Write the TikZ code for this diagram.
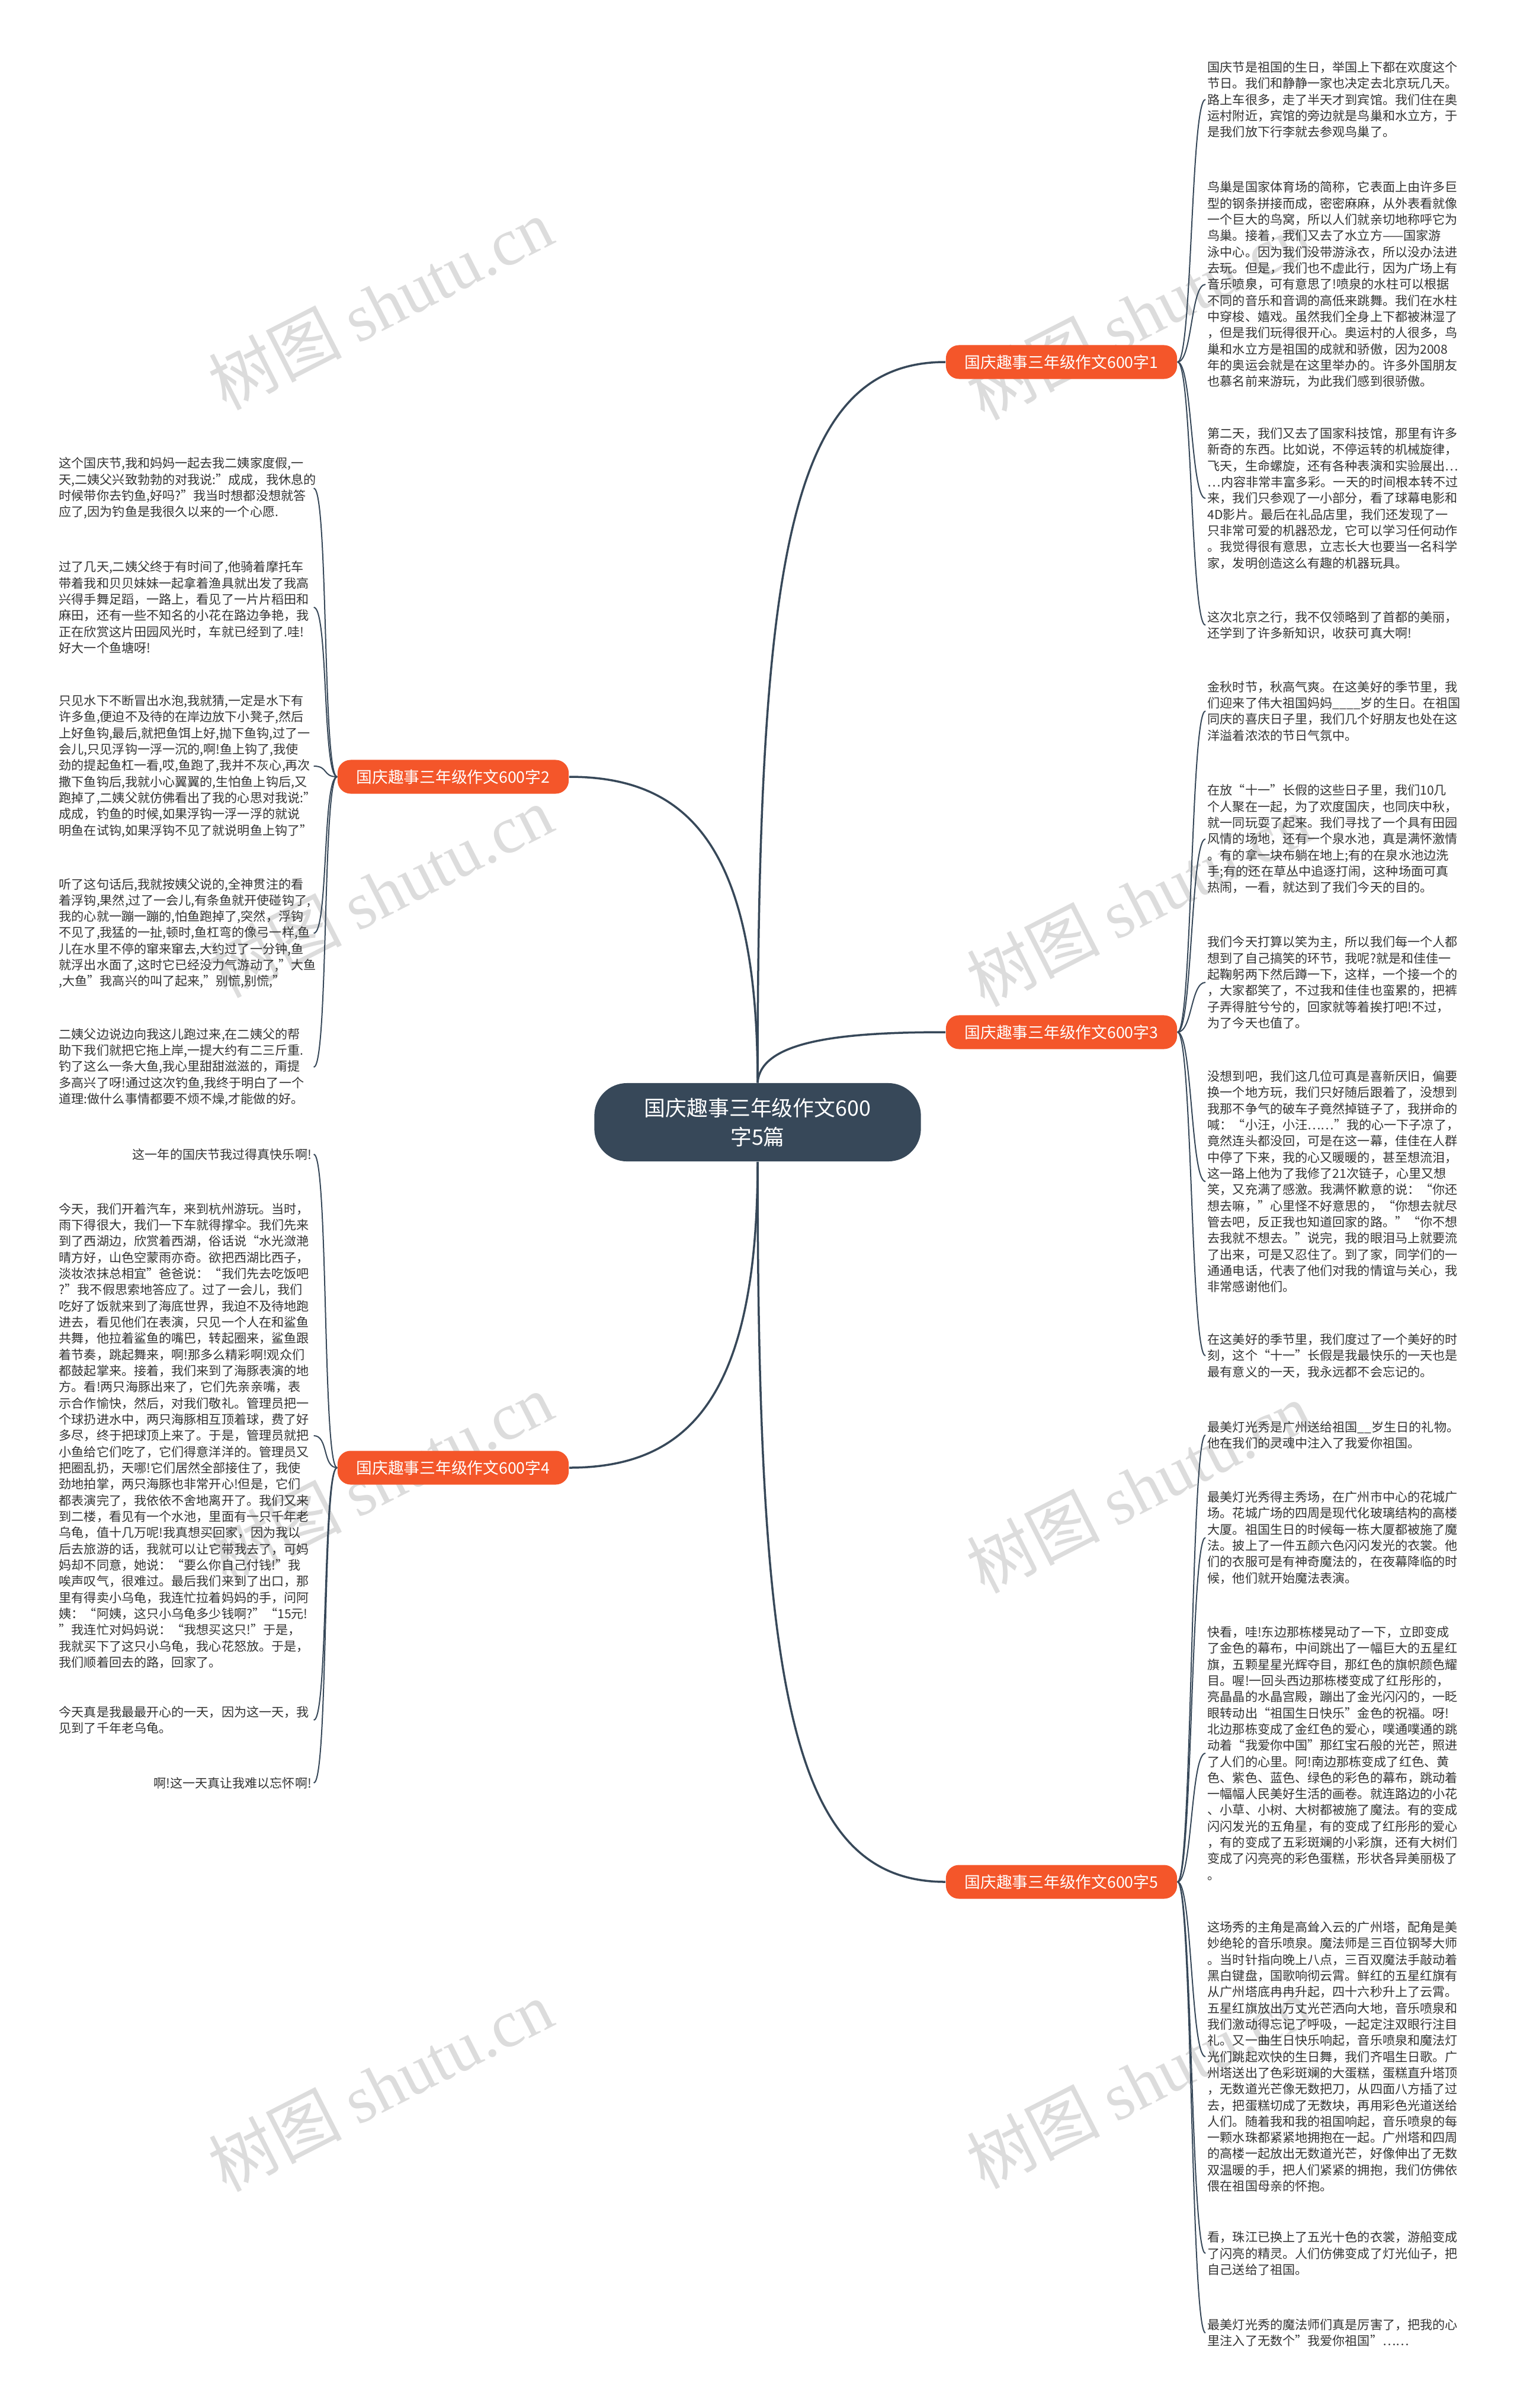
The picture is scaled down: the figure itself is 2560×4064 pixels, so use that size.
\documentclass[tikz,border=0pt]{standalone}
\usepackage{fontspec}
\setmainfont{Noto Sans CJK SC}
\newfontfamily\markserif{Liberation Serif}
\usepackage{tikz}
\definecolor{rootfill}{HTML}{374859}
\definecolor{branchfill}{HTML}{F4562A}
\definecolor{linedark}{HTML}{374859}
\definecolor{leaftext}{HTML}{333333}
\definecolor{markgray}{HTML}{DCDCDC}
\tikzset{
    rootbox/.style={
        rectangle, rounded corners=0.55cm, fill=rootfill, text=white,
        minimum width=5.51cm, minimum height=1.32cm, inner sep=0pt,
        font=\fontsize{10.2pt}{14pt}\selectfont, align=center
    },
    branchbox/.style={
        rectangle, rounded corners=0.22cm, fill=branchfill, text=white,
        minimum width=3.9cm, minimum height=0.57cm, inner sep=0pt,
        font=\fontsize{7.6pt}{9pt}\selectfont
    },
    leafbox/.style={
        rectangle, text width=4.26cm, inner xsep=0.03cm, inner ysep=0.03cm,
        align=left, text=leaftext, font=\fontsize{6pt}{7.77pt}\selectfont
    },
    leafright/.style={
        leafbox, align=right
    },
    mainline/.style={
        draw=linedark, line width=0.035cm
    },
    leafline/.style={
        draw=linedark, line width=0.02cm
    },
    watermark/.style={
        text=markgray, rotate=27, inner sep=0pt,
        font=\fontsize{32pt}{32pt}\selectfont
    },
}

\begin{document}
\begin{tikzpicture}[x=0.01cm, y=-0.01cm]

    \useasboundingbox (0,0) rectangle (2560,4064);
    \fill[white] (0,0) rectangle (2560,4064);

    % ── Watermarks ──
    \node[watermark] (wm1) at (642,513) {树图 {\markserif shutu.cn}};
    \node[watermark] (wm2) at (1922,530) {树图 {\markserif shutu.cn}};
    \node[watermark] (wm3) at (642,1505) {树图 {\markserif shutu.cn}};
    \node[watermark] (wm4) at (1922,1520) {树图 {\markserif shutu.cn}};
    \node[watermark] (wm5) at (642,2495) {树图 {\markserif shutu.cn}};
    \node[watermark] (wm6) at (1922,2510) {树图 {\markserif shutu.cn}};
    \node[watermark] (wm7) at (642,3520) {树图 {\markserif shutu.cn}};
    \node[watermark] (wm8) at (1922,3515) {树图 {\markserif shutu.cn}};

    % ── Root and branches ──
    \node[rootbox] (root) at (1279,1894) {国庆趣事三年级作文600\\字5篇};
    \node[branchbox] (b1) at (1792,611) {国庆趣事三年级作文600字1};
    \node[branchbox] (b2) at (765,1311) {国庆趣事三年级作文600字2};
    \node[branchbox] (b3) at (1792,1742) {国庆趣事三年级作文600字3};
    \node[branchbox] (b4) at (765,2477) {国庆趣事三年级作文600字4};
    \node[branchbox] (b5) at (1792,3176) {国庆趣事三年级作文600字5};

    \draw[mainline] (root.north) .. controls +(0,-900) and +(-260,0) .. (b1.west);
    \draw[mainline] (root.north) .. controls +(0,-400) and +(200,0) .. (b2.east);
    \draw[mainline] (root.north) .. controls +(5,-70) and +(-180,0) .. (b3.west);
    \draw[mainline] (root.south) .. controls +(0,400) and +(200,0) .. (b4.east);
    \draw[mainline] (root.south) .. controls +(0,900) and +(-260,0) .. (b5.west);

    % ── Branch 1 ──
    \node[leafbox, anchor=west] (r1a) at (2035,168) {国庆节是祖国的生日，举国上下都在欢度这个\\节日。我们和静静一家也决定去北京玩几天。\\路上车很多，走了半天才到宾馆。我们住在奥\\运村附近，宾馆的旁边就是鸟巢和水立方，于\\是我们放下行李就去参观鸟巢了。};
    \node[leafbox, anchor=west] (r1b) at (2035,480) {鸟巢是国家体育场的简称，它表面上由许多巨\\型的钢条拼接而成，密密麻麻，从外表看就像\\一个巨大的鸟窝，所以人们就亲切地称呼它为\\鸟巢。接着，我们又去了水立方——国家游\\泳中心。因为我们没带游泳衣，所以没办法进\\去玩。但是，我们也不虚此行，因为广场上有\\音乐喷泉，可有意思了!喷泉的水柱可以根据\\不同的音乐和音调的高低来跳舞。我们在水柱\\中穿梭、嬉戏。虽然我们全身上下都被淋湿了\\，但是我们玩得很开心。奥运村的人很多，鸟\\巢和水立方是祖国的成就和骄傲，因为2008\\年的奥运会就是在这里举办的。许多外国朋友\\也慕名前来游玩，为此我们感到很骄傲。};
    \node[leafbox, anchor=west] (r1c) at (2035,841) {第二天，我们又去了国家科技馆，那里有许多\\新奇的东西。比如说，不停运转的机械旋律，\\飞天，生命螺旋，还有各种表演和实验展出…\\…内容非常丰富多彩。一天的时间根本转不过\\来，我们只参观了一小部分，看了球幕电影和\\4D影片。最后在礼品店里，我们还发现了一\\只非常可爱的机器恐龙，它可以学习任何动作\\。我觉得很有意思，立志长大也要当一名科学\\家，发明创造这么有趣的机器玩具。};
    \node[leafbox, anchor=west] (r1d) at (2035,1055) {这次北京之行，我不仅领略到了首都的美丽，\\还学到了许多新知识，收获可真大啊!};

    \draw[leafline] (b1.east) .. controls +(25,0) and +(-25,0) .. (r1a.west);
    \draw[leafline] (b1.east) .. controls +(25,0) and +(-25,0) .. (r1b.west);
    \draw[leafline] (b1.east) .. controls +(25,0) and +(-25,0) .. (r1c.west);
    \draw[leafline] (b1.east) .. controls +(25,0) and +(-25,0) .. (r1d.west);

    % ── Branch 2 ──
    \node[leafbox, anchor=west] (l2a) at (96,824) {这个国庆节,我和妈妈一起去我二姨家度假,一\\天,二姨父兴致勃勃的对我说:"成成，我休息的\\时候带你去钓鱼,好吗?"我当时想都没想就答\\应了,因为钓鱼是我很久以来的一个心愿.};
    \node[leafbox, anchor=west] (l2b) at (96,1025) {过了几天,二姨父终于有时间了,他骑着摩托车\\带着我和贝贝妹妹一起拿着渔具就出发了我高\\兴得手舞足蹈，一路上，看见了一片片稻田和\\麻田，还有一些不知名的小花在路边争艳，我\\正在欣赏这片田园风光时，车就已经到了.哇!\\好大一个鱼塘呀!};
    \node[leafbox, anchor=west] (l2c) at (96,1293) {只见水下不断冒出水泡,我就猜,一定是水下有\\许多鱼,便迫不及待的在岸边放下小凳子,然后\\上好鱼钩,最后,就把鱼饵上好,抛下鱼钩,过了一\\会儿,只见浮钩一浮一沉的,啊!鱼上钩了,我使\\劲的提起鱼杠一看,哎,鱼跑了,我并不灰心,再次\\撒下鱼钩后,我就小心翼翼的,生怕鱼上钩后,又\\跑掉了,二姨父就仿佛看出了我的心思对我说:"\\成成，钓鱼的时候,如果浮钩一浮一浮的就说\\明鱼在试钩,如果浮钩不见了就说明鱼上钩了"};
    \node[leafbox, anchor=west] (l2d) at (96,1575) {听了这句话后,我就按姨父说的,全神贯注的看\\着浮钩,果然,过了一会儿,有条鱼就开使碰钩了,\\我的心就一蹦一蹦的,怕鱼跑掉了,突然，浮钩\\不见了,我猛的一扯,顿时,鱼杠弯的像弓一样,鱼\\儿在水里不停的窜来窜去,大约过了一分钟,鱼\\就浮出水面了,这时它已经没力气游动了,"大鱼\\,大鱼"我高兴的叫了起来,"别慌,别慌,"};
    \node[leafbox, anchor=west] (l2e) at (96,1801) {二姨父边说边向我这儿跑过来,在二姨父的帮\\助下我们就把它拖上岸,一提大约有二三斤重.\\钓了这么一条大鱼,我心里甜甜滋滋的，甭提\\多高兴了呀!通过这次钓鱼,我终于明白了一个\\道理:做什么事情都要不烦不燥,才能做的好。};

    \draw[leafline] (b2.west) .. controls +(-25,0) and +(25,0) .. (l2a.east);
    \draw[leafline] (b2.west) .. controls +(-25,0) and +(25,0) .. (l2b.east);
    \draw[leafline] (b2.west) .. controls +(-25,0) and +(25,0) .. (l2c.east);
    \draw[leafline] (b2.west) .. controls +(-25,0) and +(25,0) .. (l2d.east);
    \draw[leafline] (b2.west) .. controls +(-25,0) and +(25,0) .. (l2e.east);

    % ── Branch 3 ──
    \node[leafbox, anchor=west] (r3a) at (2035,1200) {金秋时节，秋高气爽。在这美好的季节里，我\\们迎来了伟大祖国妈妈\_\_\_\_岁的生日。在祖国\\同庆的喜庆日子里，我们几个好朋友也处在这\\洋溢着浓浓的节日气氛中。};
    \node[leafbox, anchor=west] (r3b) at (2035,1416) {在放“十一”长假的这些日子里，我们10几\\个人聚在一起，为了欢度国庆，也同庆中秋，\\就一同玩耍了起来。我们寻找了一个具有田园\\风情的场地，还有一个泉水池，真是满怀激情\\。有的拿一块布躺在地上;有的在泉水池边洗\\手;有的还在草丛中追逐打闹，这种场面可真\\热闹，一看，就达到了我们今天的目的。};
    \node[leafbox, anchor=west] (r3c) at (2035,1658) {我们今天打算以笑为主，所以我们每一个人都\\想到了自己搞笑的环节，我呢?就是和佳佳一\\起鞠躬两下然后蹲一下，这样，一个接一个的\\，大家都笑了，不过我和佳佳也蛮累的，把裤\\子弄得脏兮兮的，回家就等着挨打吧!不过，\\为了今天也值了。};
    \node[leafbox, anchor=west] (r3d) at (2035,1994) {没想到吧，我们这几位可真是喜新厌旧，偏要\\换一个地方玩，我们只好随后跟着了，没想到\\我那不争气的破车子竟然掉链子了，我拼命的\\喊：“小汪，小汪……”我的心一下子凉了，\\竟然连头都没回，可是在这一幕，佳佳在人群\\中停了下来，我的心又暖暖的，甚至想流泪，\\这一路上他为了我修了21次链子，心里又想\\笑，又充满了感激。我满怀歉意的说：“你还\\想去嘛，”心里怪不好意思的，“你想去就尽\\管去吧，反正我也知道回家的路。”“你不想\\去我就不想去。”说完，我的眼泪马上就要流\\了出来，可是又忍住了。到了家，同学们的一\\通通电话，代表了他们对我的情谊与关心，我\\非常感谢他们。};
    \node[leafbox, anchor=west] (r3e) at (2035,2288) {在这美好的季节里，我们度过了一个美好的时\\刻，这个“十一”长假是我最快乐的一天也是\\最有意义的一天，我永远都不会忘记的。};

    \draw[leafline] (b3.east) .. controls +(25,0) and +(-25,0) .. (r3a.west);
    \draw[leafline] (b3.east) .. controls +(25,0) and +(-25,0) .. (r3b.west);
    \draw[leafline] (b3.east) .. controls +(25,0) and +(-25,0) .. (r3c.west);
    \draw[leafline] (b3.east) .. controls +(25,0) and +(-25,0) .. (r3d.west);
    \draw[leafline] (b3.east) .. controls +(25,0) and +(-25,0) .. (r3e.west);

    % ── Branch 4 ──
    \node[leafright, anchor=west] (l4a) at (96,1948) {这一年的国庆节我过得真快乐啊!};
    \node[leafbox, anchor=west] (l4b) at (96,2423) {今天，我们开着汽车，来到杭州游玩。当时，\\雨下得很大，我们一下车就得撑伞。我们先来\\到了西湖边，欣赏着西湖，俗话说“水光潋滟\\晴方好，山色空蒙雨亦奇。欲把西湖比西子，\\淡妆浓抹总相宜”爸爸说：“我们先去吃饭吧\\?”我不假思索地答应了。过了一会儿，我们\\吃好了饭就来到了海底世界，我迫不及待地跑\\进去，看见他们在表演，只见一个人在和鲨鱼\\共舞，他拉着鲨鱼的嘴巴，转起圈来，鲨鱼跟\\着节奏，跳起舞来，啊!那多么精彩啊!观众们\\都鼓起掌来。接着，我们来到了海豚表演的地\\方。看!两只海豚出来了，它们先亲亲嘴，表\\示合作愉快，然后，对我们敬礼。管理员把一\\个球扔进水中，两只海豚相互顶着球，费了好\\多尽，终于把球顶上来了。于是，管理员就把\\小鱼给它们吃了，它们得意洋洋的。管理员又\\把圈乱扔，天哪!它们居然全部接住了，我使\\劲地拍掌，两只海豚也非常开心!但是，它们\\都表演完了，我依依不舍地离开了。我们又来\\到二楼，看见有一个水池，里面有一只千年老\\乌龟，值十几万呢!我真想买回家，因为我以\\后去旅游的话，我就可以让它带我去了，可妈\\妈却不同意，她说：“要么你自己付钱!”我\\唉声叹气，很难过。最后我们来到了出口，那\\里有得卖小乌龟，我连忙拉着妈妈的手，问阿\\姨：“阿姨，这只小乌龟多少钱啊?”“15元!\\”我连忙对妈妈说：“我想买这只!”于是，\\我就买下了这只小乌龟，我心花怒放。于是，\\我们顺着回去的路，回家了。};
    \node[leafbox, anchor=west] (l4c) at (96,2903) {今天真是我最最开心的一天，因为这一天，我\\见到了千年老乌龟。};
    \node[leafright, anchor=west] (l4d) at (96,3009) {啊!这一天真让我难以忘怀啊!};

    \draw[leafline] (b4.west) .. controls +(-25,0) and +(25,0) .. (l4a.east);
    \draw[leafline] (b4.west) .. controls +(-25,0) and +(25,0) .. (l4b.east);
    \draw[leafline] (b4.west) .. controls +(-25,0) and +(25,0) .. (l4c.east);
    \draw[leafline] (b4.west) .. controls +(-25,0) and +(25,0) .. (l4d.east);

    % ── Branch 5 ──
    \node[leafbox, anchor=west] (r5a) at (2035,2422) {最美灯光秀是广州送给祖国\_\_岁生日的礼物。\\他在我们的灵魂中注入了我爱你祖国。};
    \node[leafbox, anchor=west] (r5b) at (2035,2595) {最美灯光秀得主秀场，在广州市中心的花城广\\场。花城广场的四周是现代化玻璃结构的高楼\\大厦。祖国生日的时候每一栋大厦都被施了魔\\法。披上了一件五颜六色闪闪发光的衣裳。他\\们的衣服可是有神奇魔法的，在夜幕降临的时\\候，他们就开始魔法表演。};
    \node[leafbox, anchor=west] (r5c) at (2035,2959) {快看，哇!东边那栋楼晃动了一下，立即变成\\了金色的幕布，中间跳出了一幅巨大的五星红\\旗，五颗星星光辉夺目，那红色的旗帜颜色耀\\目。喔!一回头西边那栋楼变成了红彤彤的，\\亮晶晶的水晶宫殿，蹦出了金光闪闪的，一眨\\眼转动出“祖国生日快乐”金色的祝福。呀!\\北边那栋变成了金红色的爱心，噗通噗通的跳\\动着“我爱你中国”那红宝石般的光芒，照进\\了人们的心里。阿!南边那栋变成了红色、黄\\色、紫色、蓝色、绿色的彩色的幕布，跳动着\\一幅幅人民美好生活的画卷。就连路边的小花\\、小草、小树、大树都被施了魔法。有的变成\\闪闪发光的五角星，有的变成了红彤彤的爱心\\，有的变成了五彩斑斓的小彩旗，还有大树们\\变成了闪亮亮的彩色蛋糕，形状各异美丽极了\\。};
    \node[leafbox, anchor=west] (r5d) at (2035,3471) {这场秀的主角是高耸入云的广州塔，配角是美\\妙绝轮的音乐喷泉。魔法师是三百位钢琴大师\\。当时针指向晚上八点，三百双魔法手敲动着\\黑白键盘，国歌响彻云霄。鲜红的五星红旗有\\从广州塔底冉冉升起，四十六秒升上了云霄。\\五星红旗放出万丈光芒洒向大地，音乐喷泉和\\我们激动得忘记了呼吸，一起定注双眼行注目\\礼。又一曲生日快乐响起，音乐喷泉和魔法灯\\光们跳起欢快的生日舞，我们齐唱生日歌。广\\州塔送出了色彩斑斓的大蛋糕，蛋糕直升塔顶\\，无数道光芒像无数把刀，从四面八方插了过\\去，把蛋糕切成了无数块，再用彩色光道送给\\人们。随着我和我的祖国响起，音乐喷泉的每\\一颗水珠都紧紧地拥抱在一起。广州塔和四周\\的高楼一起放出无数道光芒，好像伸出了无数\\双温暖的手，把人们紧紧的拥抱，我们仿佛依\\偎在祖国母亲的怀抱。};
    \node[leafbox, anchor=west] (r5e) at (2035,3803) {看，珠江已换上了五光十色的衣裳，游船变成\\了闪亮的精灵。人们仿佛变成了灯光仙子，把\\自己送给了祖国。};
    \node[leafbox, anchor=west] (r5f) at (2035,3937) {最美灯光秀的魔法师们真是厉害了，把我的心\\里注入了无数个”我爱你祖国”……};

    \draw[leafline] (b5.east) .. controls +(25,0) and +(-25,0) .. (r5a.west);
    \draw[leafline] (b5.east) .. controls +(25,0) and +(-25,0) .. (r5b.west);
    \draw[leafline] (b5.east) .. controls +(25,0) and +(-25,0) .. (r5c.west);
    \draw[leafline] (b5.east) .. controls +(25,0) and +(-25,0) .. (r5d.west);
    \draw[leafline] (b5.east) .. controls +(25,0) and +(-25,0) .. (r5e.west);
    \draw[leafline] (b5.east) .. controls +(25,0) and +(-25,0) .. (r5f.west);

\end{tikzpicture}
\end{document}
